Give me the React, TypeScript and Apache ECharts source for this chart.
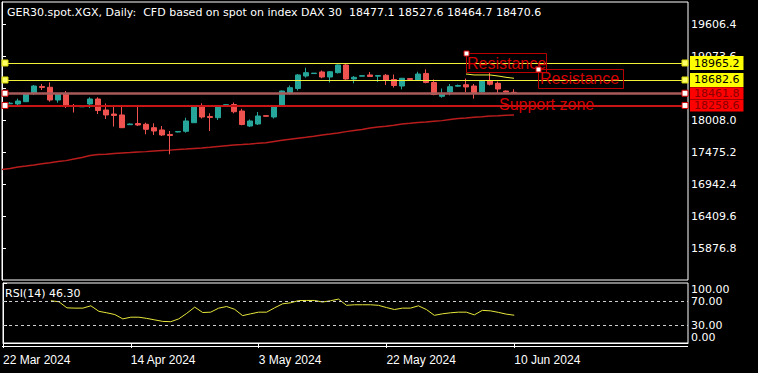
import React, { useEffect, useRef } from 'react';
import * as echarts from 'echarts';

// ---- data ----
const dateLabels = ['22 Mar 2024', '14 Apr 2024', '3 May 2024', '22 May 2024', '10 Jun 2024'];
const dateTickIndex = [0, 16, 32, 48, 64];

const barIndex = [
  1, 2, 3, 4, 5, 6, 7, 8, 9, 10, 11, 12, 13, 14, 15, 16, 17, 18, 19, 20, 21, 22, 23, 24, 25, 26, 27, 28, 29, 30, 31, 32,
  33, 34, 35, 36, 37, 38, 39, 40, 41, 42, 43, 44, 45, 46, 47, 48, 49, 50, 51, 52, 53, 54, 55, 56, 57, 58, 59, 60, 61, 62, 63, 64,
];
const opens = [
  18286, 18283, 18321, 18461, 18574, 18561, 18349, 18458, 18258, 18236, 18283, 18366, 18183, 18116, 18100, 17938,
  17958, 17945, 17888, 17850, 17775, 17816, 17828, 17971, 18254, 18075, 18055, 18261, 18274, 18166, 17916, 17950,
  18088, 18066, 18258, 18474, 18541, 18749, 18789, 18816, 18732, 18804, 18932, 18699, 18746, 18766, 18746, 18761,
  18691, 18582, 18706, 18682, 18791, 18641, 18411, 18482, 18579, 18604, 18582, 18482, 18666, 18627, 18499, 18477.1,
];
const closes = [
  18296, 18333, 18449, 18582, 18557, 18349, 18449, 18249, 18244, 18244, 18366, 18174, 18100, 18091, 17888, 17950,
  17933, 17861, 17833, 17767, 17758, 17825, 18000, 18249, 18066, 18058, 18238, 18271, 18154, 17941, 18000, 18083,
  18078, 18249, 18499, 18554, 18766, 18804, 18797, 18732, 18820, 18932, 18699, 18727, 18754, 18741, 18756, 18682,
  18591, 18711, 18692, 18782, 18641, 18441, 18444, 18571, 18591, 18566, 18474, 18666, 18611, 18532, 18482, 18470.6,
];
const lows = [
  18278, 18238, 18316, 18433, 18516, 18321, 18304, 18216, 18141, 18233, 18216, 18116, 18033, 17908, 17883, 17933,
  17916, 17778, 17767, 17750, 17445, 17811, 17805, 17966, 18041, 17833, 18016, 18254, 18128, 17928, 17900, 17933,
  18071, 18041, 18238, 18441, 18507, 18721, 18786, 18711, 18641, 18791, 18687, 18627, 18741, 18732, 18649, 18599,
  18557, 18527, 18666, 18671, 18627, 18428, 18388, 18428, 18574, 18482, 18371, 18474, 18591, 18449, 18474, 18464.7,
];
const highs = [
  18316, 18371, 18458, 18599, 18616, 18644, 18461, 18499, 18283, 18249, 18394, 18394, 18291, 18233, 18241, 17958,
  18254, 17971, 17961, 17916, 17833, 17828, 18055, 18258, 18294, 18128, 18266, 18278, 18308, 18204, 18025, 18149,
  18091, 18258, 18507, 18591, 18782, 18887, 18799, 18841, 18827, 18940, 18957, 18749, 18757, 18816, 18761, 18782,
  18774, 18716, 18711, 18820, 18860, 18691, 18541, 18616, 18607, 18707, 18616, 18674, 18799, 18657, 18507, 18527.6,
];

// red moving average, bars 0..64
const maValues = [
  17192, 17209, 17234, 17250, 17267, 17287, 17305, 17325, 17339, 17367,
  17392, 17425, 17442, 17447, 17459, 17467, 17475, 17484, 17489, 17500,
  17509, 17514, 17525, 17533, 17542, 17550, 17562, 17575, 17588, 17600,
  17608, 17617, 17628, 17638, 17658, 17678, 17695, 17712, 17728, 17745,
  17767, 17783, 17800, 17822, 17842, 17858, 17883, 17900, 17911, 17928,
  17950, 17961, 17975, 17983, 17995, 18005, 18025, 18041, 18050, 18061,
  18071, 18083, 18088, 18095, 18100,
];

// short yellow line, bars 58..64
const yellowStart = 58;
const yellowValues = [18782, 18766, 18766, 18766, 18749, 18727, 18711];

// RSI(14), bars 6..64
const rsiStart = 6;
const rsiValues = [
  70.4, 68.7, 58.6, 58.1, 58.1, 62.0, 52.8, 50.3, 47.4, 40.2, 43.0, 43.0, 41.0, 38.5, 36.0, 35.5, 40.2, 49.4, 59.8, 50.8,
  51.4, 58.1, 60.8, 56.1, 45.6, 48.6, 51.4, 51.4, 58.6, 65.3, 67.0, 70.7, 70.9, 70.9, 68.3, 70.4, 73.2, 62.8, 63.7, 63.7,
  63.7, 62.8, 59.1, 55.8, 58.1, 58.1, 62.0, 55.8, 46.1, 48.6, 50.3, 51.4, 51.4, 46.9, 54.4, 53.6, 51.1, 48.1, 46.3,
];

const yellowLevels = [18965.2, 18682.6];
const redLevels = [18461.8, 18258.6];
const priceTicks = [15876.8, 16409.6, 16942.4, 17475.2, 18008.0, 18540.8, 19073.6, 19606.4];
// 18540.8 is fully hidden behind the red price boxes in the reference
const priceLabels = [15876.8, 16409.6, 16942.4, 17475.2, 18008.0, 19073.6, 19606.4];
const rsiTicks = [0, 30, 70, 100];
const rsiLevels = [70, 30];

const UP = '#26a69a';
const DOWN = '#ef5350';
const X_MIN = 0;
const X_MAX = 85.75;
const HANDLE_LEFT = 0.375;
const HANDLE_RIGHT = 85.375;

export default function App() {
  const ref = useRef<HTMLDivElement>(null);

  useEffect(() => {
    if (!ref.current) return;
    const chart = echarts.init(ref.current, undefined, { renderer: 'svg' });
    const last = barIndex.length - 1;
    const title =
      'GER30.spot.XGX, Daily:  CFD based on spot on index DAX 30  ' +
      [opens[last], highs[last], lows[last], closes[last]].map((v) => v.toFixed(1)).join(' ');
    const rsiTitle = 'RSI(14) ' + rsiValues[rsiValues.length - 1].toFixed(2);

    const levelLine = (v: number, yellow: boolean) => ({
      yAxis: v,
      lineStyle: yellow
        ? { color: '#f2f23a', width: 1.2, type: 'solid' }
        : v === redLevels[0]
        ? { color: '#a85a5a', width: 2.5, type: 'solid' }
        : { color: '#c81414', width: 1.8, type: 'solid' },
      label: {
        show: true,
        position: 'end',
        distance: 2,
        formatter: v.toFixed(1),
        backgroundColor: yellow ? '#ffff00' : '#ff0000',
        color: yellow ? '#000' : '#8a0000',
        fontFamily: 'DejaVu Sans',
        fontSize: 11,
        lineHeight: yellow ? 12 : 11,
        padding: yellow ? [1, 4, 1, 4] : [0.5, 4, 0.5, 4],
      },
    });

    const handle = (v: number, x: number, yellow: boolean) => ({
      coord: [x, v],
      itemStyle: yellow
        ? { color: '#ffff66', borderColor: '#d8d800', borderWidth: 1 }
        : { color: '#ffffff', borderColor: '#d00000', borderWidth: 1 },
    });

    const option: any = {
      animation: false,
      backgroundColor: '#000',
      grid: [
        { left: 2, top: 2, width: 686, height: 278, show: true, borderColor: '#fff', borderWidth: 1, backgroundColor: '#000' },
        { left: 2, top: 283, width: 686, height: 60, show: true, borderColor: '#fff', borderWidth: 1, backgroundColor: '#000' },
      ],
      xAxis: [
        { type: 'value', gridIndex: 0, min: X_MIN, max: X_MAX, show: false },
        {
          type: 'value',
          gridIndex: 1,
          min: X_MIN,
          max: X_MAX,
          position: 'bottom',
          offset: 6,
          axisLine: { show: true, lineStyle: { color: '#fff', width: 1 } },
          axisTick: { show: true, customValues: dateTickIndex, length: 5, lineStyle: { color: '#fff' } },
          axisLabel: {
            customValues: dateTickIndex,
            formatter: (v: number) => {
              const k = dateTickIndex.indexOf(Math.round(v));
              return k >= 0 ? dateLabels[k] : '';
            },
            color: '#fff',
            fontFamily: 'Liberation Sans',
            fontSize: 12,
            align: 'left',
            margin: 5,
          },
          splitLine: { show: false },
        },
      ],
      yAxis: [
        {
          type: 'value',
          gridIndex: 0,
          position: 'right',
          min: 15352,
          max: 19981,
          axisLine: { show: true, lineStyle: { color: '#fff' } },
          axisTick: { show: true, customValues: priceTicks, length: 4, lineStyle: { color: '#fff' } },
          axisLabel: {
            customValues: priceLabels,
            formatter: (v: number) => v.toFixed(1),
            color: '#fff',
            fontFamily: 'DejaVu Sans',
            fontSize: 11,
            margin: 3,
          },
          splitLine: { show: false },
        },
        {
          type: 'value',
          gridIndex: 1,
          position: 'right',
          min: 0,
          max: 100,
          axisLine: { show: true, lineStyle: { color: '#fff' } },
          axisTick: { show: true, customValues: rsiTicks, length: 4, lineStyle: { color: '#fff' } },
          axisLabel: {
            customValues: rsiTicks,
            formatter: (v: number) => (v === 100 ? '\n100.00' : v === 0 ? '0.00\n' : v.toFixed(2)),
            color: '#fff',
            fontFamily: 'DejaVu Sans',
            fontSize: 11,
            lineHeight: 12,
            margin: 3,
          },
          splitLine: { show: false },
        },
      ],
      series: [
        {
          type: 'line',
          name: 'MA',
          xAxisIndex: 0,
          yAxisIndex: 0,
          data: maValues.map((v, i) => [i, v]),
          showSymbol: false,
          lineStyle: { color: '#b81c1c', width: 1.4 },
          z: 1,
          markLine: {
            silent: true,
            symbol: ['none', 'none'],
            z: 6,
            data: [
              ...yellowLevels.map((v) => levelLine(v, true)),
              ...redLevels.map((v) => levelLine(v, false)),
            ],
          },
          markPoint: {
            silent: true,
            symbol: 'rect',
            symbolSize: 6,
            label: { show: false },
            z: 7,
            data: [
              ...yellowLevels.flatMap((v) => [handle(v, HANDLE_LEFT, true), handle(v, HANDLE_RIGHT, true)]),
              ...redLevels.flatMap((v) => [handle(v, HANDLE_LEFT, false), handle(v, HANDLE_RIGHT, false)]),
            ],
          },
        },
        {
          type: 'candlestick',
          xAxisIndex: 0,
          yAxisIndex: 0,
          data: barIndex.map((b, k) => [b, opens[k], closes[k], lows[k], highs[k]]),
          encode: { x: 0, y: [1, 2, 3, 4] },
          barWidth: 5,
          itemStyle: { color: UP, color0: DOWN, borderColor: UP, borderColor0: DOWN, borderColorDoji: UP, borderWidth: 1 },
          z: 3,
        },
        {
          type: 'line',
          xAxisIndex: 0,
          yAxisIndex: 0,
          data: yellowValues.map((v, k) => [yellowStart + k, v]),
          showSymbol: false,
          lineStyle: { color: '#f2f23a', width: 1 },
          z: 4,
        },
        {
          type: 'line',
          xAxisIndex: 1,
          yAxisIndex: 1,
          data: rsiValues.map((v, k) => [rsiStart + k, v]),
          showSymbol: false,
          lineStyle: { color: '#e6e63c', width: 1 },
          markLine: {
            silent: true,
            symbol: ['none', 'none'],
            label: { show: false },
            lineStyle: { color: '#cfcfcf', width: 1, type: [3, 3] },
            data: rsiLevels.map((v) => ({ yAxis: v })),
          },
        },
      ],
      graphic: [
        {
          type: 'text',
          x: 7,
          y: 12,
          style: { text: title, fill: '#fff', font: '11px "DejaVu Sans"', verticalAlign: 'middle' },
          z: 10,
        },
        {
          type: 'text',
          x: 5,
          y: 293,
          style: { text: rsiTitle, fill: '#fff', font: '11px "DejaVu Sans"', verticalAlign: 'middle' },
          z: 10,
        },
        {
          type: 'line',
          shape: { x1: 2, y1: 346.5, x2: 688, y2: 346.5 },
          style: { stroke: '#fff', lineWidth: 1 },
          z: 10,
        },
        // annotations
        {
          type: 'rect',
          shape: { x: 466.5, y: 53.5, width: 80, height: 19 },
          style: { fill: 'none', stroke: '#b80000', lineWidth: 1 },
          z: 20,
        },
        {
          type: 'text',
          x: 467,
          y: 63,
          style: { text: 'Resistance', fill: '#d40000', font: '16px "Liberation Sans"', verticalAlign: 'middle' },
          z: 20,
        },
        {
          type: 'rect',
          shape: { x: 538.5, y: 69.5, width: 85, height: 19 },
          style: { fill: 'none', stroke: '#b80000', lineWidth: 1 },
          z: 20,
        },
        {
          type: 'text',
          x: 540,
          y: 78.5,
          style: { text: 'Resistance', fill: '#d40000', font: '16px "Liberation Sans"', verticalAlign: 'middle' },
          z: 20,
        },
        {
          type: 'text',
          x: 499,
          y: 104.5,
          style: { text: 'Support zone', fill: '#d40000', font: '16px "Liberation Sans"', verticalAlign: 'middle' },
          z: 20,
        },
        {
          type: 'rect',
          shape: { x: 464, y: 51, width: 5, height: 5 },
          style: { fill: '#fff', stroke: '#d00000', lineWidth: 1 },
          z: 21,
        },
        {
          type: 'rect',
          shape: { x: 536, y: 67, width: 5, height: 5 },
          style: { fill: '#fff', stroke: '#d00000', lineWidth: 1 },
          z: 21,
        },
      ],
    };

    chart.setOption(option);
    return () => chart.dispose();
  }, []);

  return (
    <div
      ref={ref}
      style={{ position: 'fixed', left: 0, top: 0, width: 758, height: 373, background: '#000' }}
    />
  );
}
